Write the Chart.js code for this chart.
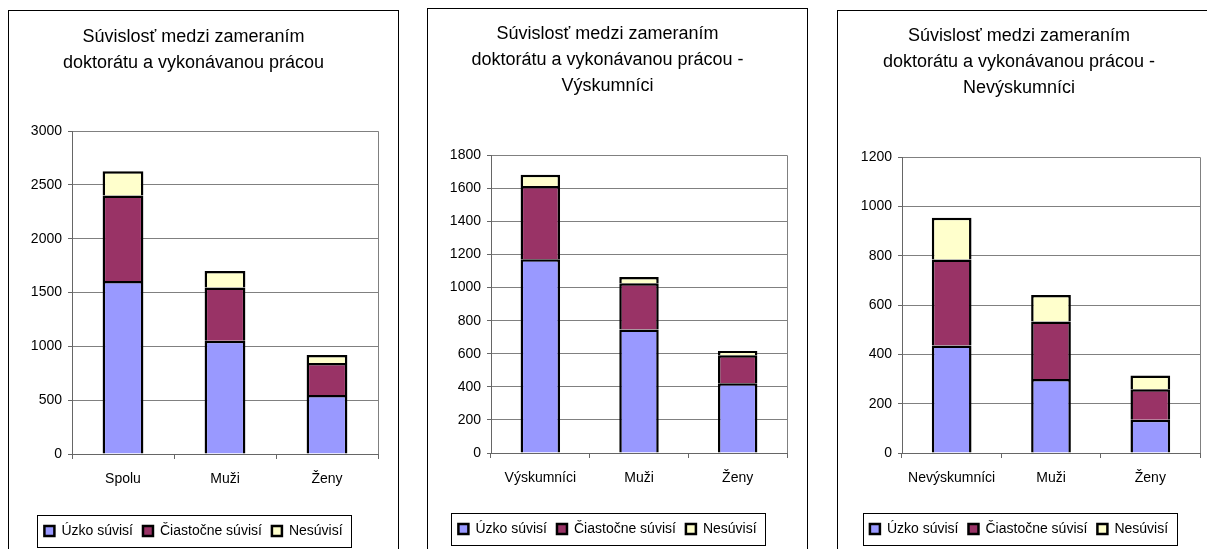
<!DOCTYPE html>
<html>
<head>
<meta charset="utf-8">
<script src="https://cdn.jsdelivr.net/npm/chart.js@4.4.1/dist/chart.umd.min.js"></script>
<style>
body{margin:0;background:#fff;width:1207px;height:549px;overflow:hidden;position:relative;}
.box{position:absolute;border:1px solid #000;background:#fff;}
canvas{display:block;}
</style>
</head>
<body>
<div class="box" style="left:8px;top:10px;width:389px;height:560px;"><canvas id="graph1" width="389" height="538"></canvas></div>
<div class="box" style="left:427px;top:8px;width:379px;height:560px;"><canvas id="graph2" width="379" height="540"></canvas></div>
<div class="box" style="left:837px;top:10px;width:379px;height:560px;"><canvas id="graph3" width="379" height="538"></canvas></div>
<script>
// series names
var seriesNames = ['Úzko súvisí', 'Čiastočne súvisí', 'Nesúvisí'];
var colors = ['#9999FF', '#993366', '#FFFFCC'];

// chart 1 - all
var labels1 = ['Spolu', 'Muži', 'Ženy'];
var uzko1 = [1607, 1052, 548];
var ciast1 = [796, 496, 297];
var nesuv1 = [225, 152, 75];
var title1 = ['Súvislosť medzi zameraním', 'doktorátu a vykonávanou prácou'];
var yMax1 = 3000, yStep1 = 500;

// chart 2 - researchers
var labels2 = ['Výskumníci', 'Muži', 'Ženy'];
var uzko2 = [1171, 746, 421];
var ciast2 = [444, 280, 170];
var nesuv2 = [68, 38, 26];
var title2 = ['Súvislosť medzi zameraním', 'doktorátu a vykonávanou prácou -', 'Výskumníci'];
var yMax2 = 1800, yStep2 = 200;

// chart 3 - non researchers
var labels3 = ['Nevýskumníci', 'Muži', 'Ženy'];
var uzko3 = [436, 300, 135];
var ciast3 = [349, 234, 124];
var nesuv3 = [170, 107, 56];
var title3 = ['Súvislosť medzi zameraním', 'doktorátu a vykonávanou prácou -', 'Nevýskumníci'];
var yMax3 = 1200, yStep3 = 200;

Chart.defaults.font.family = "'Liberation Sans', Arial, sans-serif";
Chart.defaults.color = '#000';

// plot border on the right + frame around the legend
var frames = {
  id: 'frames',
  beforeDatasetsDraw: function(chart) {
    var a = chart.chartArea;
    var c = chart.ctx;
    c.save();
    c.strokeStyle = '#808080';
    c.lineWidth = 1;
    c.beginPath();
    c.moveTo(Math.round(a.right) + 0.5, a.top);
    c.lineTo(Math.round(a.right) + 0.5, a.bottom);
    c.stroke();
    c.restore();
  },
  afterDraw: function(chart) {
    var hb = chart.legend.legendHitBoxes;
    if (!hb || !hb.length) return;
    var l = hb[0].left, r = hb[0].left + hb[0].width, t = hb[0].top, b = hb[0].top + hb[0].height;
    for (let h of hb) {
      l = Math.min(l, h.left); r = Math.max(r, h.left + h.width);
      t = Math.min(t, h.top); b = Math.max(b, h.top + h.height);
    }
    var c = chart.ctx;
    c.save();
    c.strokeStyle = '#000';
    c.lineWidth = 1;
    c.strokeRect(Math.round(l - 7) + 0.5, Math.round(t - 9) + 0.5, Math.round(r - l + 16), Math.round(b - t + 18));
    c.restore();
  }
};

function makeChart(id, labels, a, b, d, title, yMax, yStep, s) {
  var ctx = document.querySelector('#' + id).getContext('2d');
  var vals = [a, b, d];
  var datasets = [];
  for (let i = 0; i < 3; i++) {
    datasets.push({
      label: seriesNames[i],
      data: vals[i],
      backgroundColor: colors[i],
      borderColor: '#000',
      borderWidth: 2.5,
      inflateAmount: 0,
      barPercentage: 0.4,
      categoryPercentage: 1
    });
  }
  return new Chart(ctx, {
    type: 'bar',
    data: { labels: labels, datasets: datasets },
    plugins: [frames],
    options: {
      responsive: false,
      animation: false,
      devicePixelRatio: 1,
      layout: { padding: { left: 0, right: s.padRight, top: 0, bottom: s.padBottom } },
      plugins: {
        title: {
          display: true,
          text: title,
          color: '#000',
          font: { size: 18, weight: 'normal', lineHeight: 1.45 },
          padding: { top: s.titleTop, bottom: s.titleBottom }
        },
        legend: {
          position: 'bottom',
          labels: {
            boxWidth: 10,
            boxHeight: 10,
            padding: 10,
            color: '#000',
            font: { size: 14 }
          }
        },
        tooltip: { enabled: false }
      },
      scales: {
        x: {
          stacked: true,
          afterFit: function(scale) { scale.height = s.xHeight; },
          grid: { display: true, drawOnChartArea: false, drawTicks: true, tickLength: 5, color: '#666', offset: true },
          border: { display: true, color: '#666', width: 1 },
          ticks: { padding: 12, color: '#000', font: { size: 14 } }
        },
        y: {
          stacked: true,
          min: 0,
          max: yMax,
          afterFit: function(scale) { scale.width = s.yWidth; },
          grid: { color: '#808080', tickLength: 4, tickColor: '#666' },
          border: { display: true, color: '#666', width: 1 },
          ticks: {
            stepSize: yStep, padding: 6, color: '#000', font: { size: 14 },
            callback: function(v) { return String(v); }
          }
        }
      }
    }
  });
}

document.addEventListener('DOMContentLoaded', function() {
  makeChart('graph1', labels1, uzko1, ciast1, nesuv1, title1, yMax1, yStep1,
    { titleTop: 13, titleBottom: 55, yWidth: 63, xHeight: 60, padRight: 20, padBottom: 1 });
  makeChart('graph2', labels2, uzko2, ciast2, nesuv2, title2, yMax2, yStep2,
    { titleTop: 12, titleBottom: 56, yWidth: 63, xHeight: 59, padRight: 20, padBottom: 3 });
  makeChart('graph3', labels3, uzko3, ciast3, nesuv3, title3, yMax3, yStep3,
    { titleTop: 12, titleBottom: 56, yWidth: 64, xHeight: 59, padRight: 17, padBottom: 3 });
});
</script>
</body>
</html>
